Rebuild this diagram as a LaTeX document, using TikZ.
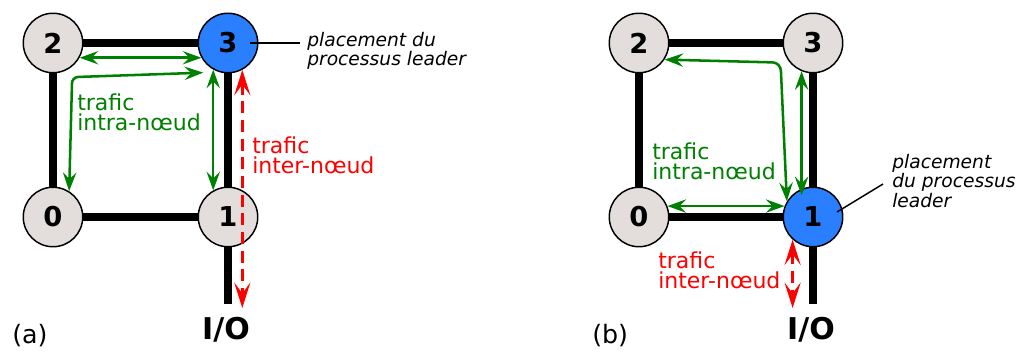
\documentclass[tikz,border=0pt]{standalone}
\usepackage{fontspec}
\setmainfont{DejaVu Sans}
\usetikzlibrary{arrows.meta,backgrounds}

\begin{document}
\begin{tikzpicture}[x=0.75pt, y=-0.75pt,
  >={Stealth[length=14pt, width=10pt, inset=5pt]},
  proc/.style={circle, draw=black, line width=1.1pt, fill=procgray,
    minimum size=44.6pt, inner sep=0pt, font=\fontsize{20.5}{24}\selectfont\bfseries},
  leader/.style={proc, fill=leaderblue},
  link/.style={line width=6pt},
  intra/.style={draw=intragreen, line width=1.9pt, <->},
  inter/.style={draw=red, line width=2.5pt, dash pattern=on 9pt off 5pt,
    >={Stealth[length=19pt, width=12pt, inset=8pt]}, <->},
  callout/.style={line width=1.1pt},
  gtext/.style={intragreen, font=\fontsize{16.5}{15}\selectfont, align=left,
    inner sep=0pt, anchor=north west},
  rtext/.style={gtext, red},
  ltext/.style={font=\fontsize{14}{13.2}\selectfont\itshape,
    align=left, inner sep=0pt, anchor=north west},
  iotext/.style={font=\fontsize{22.5}{27}\selectfont\bfseries, anchor=base, inner sep=0pt},
  tag/.style={font=\fontsize{19}{23}\selectfont, anchor=base west, inner sep=0pt}]
  % Define colors
  \definecolor{procgray}{HTML}{E3DEDB}
  \definecolor{leaderblue}{HTML}{2A7FFF}
  \definecolor{intragreen}{HTML}{008000}

  \useasboundingbox (0,0) rectangle (1022,352);

  % (a) leader on node 3
  \node[proc] (a2) at (53,43) {2};
  \node[leader] (a3) at (228,43) {3};
  \node[proc] (a0) at (53,217) {0};
  \node[proc] (a1) at (228,217) {1};
  \coordinate (aend) at (228,304);
  \coordinate (aout) at (242,308);
  \node[iotext] (aio) at (226,340) {I/O};
  \node[tag] (atag) at (12,344) {(a)};

  \begin{scope}[on background layer]
    \draw[link] (a0.center) -- (a2.center) -- (a3.center) -- (a1.center) -- (aend);
    \draw[link] (a0.center) -- (a1.center);
  \end{scope}

  % intra traffic
  \draw[intra] (a2.331) -- (a3.209);
  \draw[intra, rounded corners=4.5pt] (a0.58) -- ++(3,-114) -- ([shift={(-10,3)}]a3.241);
  \draw[intra] (a3.241) -- (a1.119);
  % inter traffic
  \draw[inter] (a3.298) -- (a3.298 |- aout);

  \node[gtext] (aintra) at (77,94) {trafic\\intra-nœud};
  \node[rtext] (ainter) at (252,137) {trafic\\inter-nœud};
  \node[ltext] (alead) at (307,32) {placement du\\processus leader};
  \draw[callout] ([xshift=-6pt]a3.east) -- ++(50,0);

  % (b) leader on node 1
  \node[proc] (b2) at (639,43) {2};
  \node[proc] (b3) at (813,43) {3};
  \node[proc] (b0) at (639,217) {0};
  \node[leader] (b1) at (813,217) {1};
  \coordinate (bend) at (813,304);
  \coordinate (bout) at (793,308);
  \node[iotext] (bio) at (811,340) {I/O};
  \node[tag] (btag) at (592,344) {(b)};

  \begin{scope}[on background layer]
    \draw[link] (b0.center) -- (b2.center) -- (b3.center) -- (b1.center) -- (bend);
    \draw[link] (b0.center) -- (b1.center);
  \end{scope}

  % intra traffic
  \draw[intra, rounded corners=6pt] (b2.327) -- ++(116,3) -- (b1.149);
  \draw[intra, shorten >=-5pt] (b3.248) -- (b1.112);
  \draw[intra] (b0.21) -- (b1.159);
  % inter traffic
  \draw[inter] (b1.228) -- (b1.228 |- bout);

  \node[gtext] (bintra) at (652,143) {trafic\\intra-nœud};
  \node[rtext] (binter) at (658,252) {trafic\\inter-nœud};
  \node[ltext] (blead) at (892,154) {placement\\du processus\\leader};
  \draw[callout] ([shift={(24,-5)}]b1.center) -- ++(46,-28);
\end{tikzpicture}
\end{document}
